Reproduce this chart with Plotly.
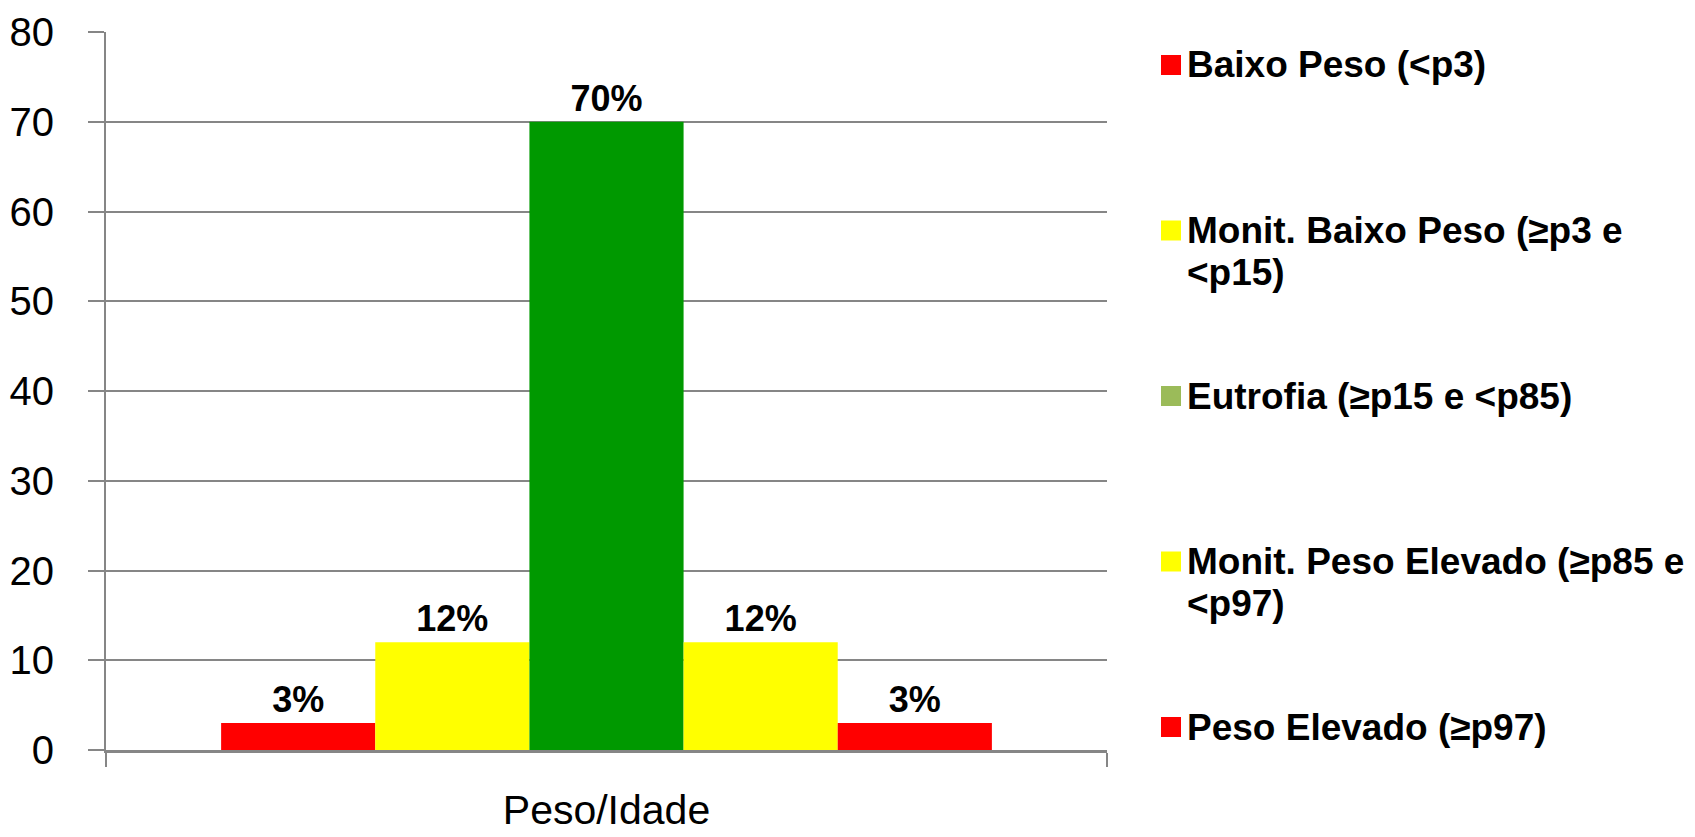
import html
import textwrap

import plotly.graph_objects as go

CATEGORY = "Peso/Idade"
SERIES_NAMES = [
    "Baixo Peso (<p3)",
    "Monit. Baixo Peso (≥p3 e <p15)",
    "Eutrofia (≥p15 e <p85)",
    "Monit. Peso Elevado (≥p85 e <p97)",
    "Peso Elevado (≥p97)",
]
SERIES_VALUES = [3, 12, 70, 12, 3]
BAR_COLORS = ["#FF0000", "#FFFF00", "#009900", "#FFFF00", "#FF0000"]
LEGEND_COLORS = ["#FF0000", "#FFFF00", "#9BBB59", "#FFFF00", "#FF0000"]
Y_TICKS = [0, 10, 20, 30, 40, 50, 60, 70, 80]

# page body has an 8px margin, so the figure is drawn 8px smaller and shifted
BODY = 8
W, H = 1695 - BODY, 837 - BODY
PLOT_L, PLOT_R, PLOT_T, PLOT_B = 106 - BODY, 1107 - BODY, 32 - BODY, 750 - BODY
GRAY = "#868686"
FONT = "Arial, Liberation Sans, sans-serif"


def px_x(x):
    # x given in screen pixels
    return (x - BODY - PLOT_L) / (PLOT_R - PLOT_L)


def px_y(y):
    return (PLOT_B - (y - BODY)) / (PLOT_B - PLOT_T)


fig = go.Figure()
for name, value, color in zip(SERIES_NAMES, SERIES_VALUES, BAR_COLORS):
    fig.add_trace(
        go.Bar(
            x=[CATEGORY],
            y=[value],
            name=name,
            marker=dict(color=color, line=dict(width=0)),
            text=[f"<b>{value}%</b>"],
            textposition="outside",
            textfont=dict(family=FONT, size=36, color="black"),
            constraintext="none",
            cliponaxis=False,
            showlegend=False,
        )
    )

# hand-made legend, evenly spaced rows like the original
shapes = []
annotations = []
row_top, row_step, line_step = 65, 165.5, 42
for i, (name, color) in enumerate(zip(SERIES_NAMES, LEGEND_COLORS)):
    cy = row_top + i * row_step
    shapes.append(
        dict(
            type="rect", xref="paper", yref="paper",
            x0=px_x(1161), x1=px_x(1181), y0=px_y(cy - 10), y1=px_y(cy + 10),
            fillcolor=color, line=dict(width=0),
        )
    )
    for j, line in enumerate(textwrap.wrap(name, 27)):
        annotations.append(
            dict(
                xref="paper", yref="paper",
                x=px_x(1185), y=px_y(cy + j * line_step),
                xanchor="left", yanchor="middle",
                text=f"<b>{html.escape(line)}</b>",
                showarrow=False,
                font=dict(family=FONT, size=37, color="black"),
            )
        )

fig.update_layout(
    width=W,
    height=H,
    autosize=False,
    margin=dict(l=PLOT_L, r=W - PLOT_R, t=PLOT_T, b=H - PLOT_B, pad=0),
    paper_bgcolor="white",
    plot_bgcolor="white",
    barmode="group",
    bargap=0.23,
    bargroupgap=0,
    shapes=shapes,
    annotations=annotations,
    font=dict(family=FONT, color="black"),
)
fig.update_yaxes(
    range=[0, 80],
    tickvals=Y_TICKS,
    automargin=False,
    showgrid=True,
    gridcolor=GRAY,
    gridwidth=2,
    zeroline=False,
    showline=True,
    linecolor=GRAY,
    linewidth=2,
    ticks="outside",
    ticklen=16,
    tickwidth=2,
    tickcolor=GRAY,
    ticklabelstandoff=26,
    tickfont=dict(family=FONT, size=40, color="black"),
)
fig.update_xaxes(
    type="category",
    automargin=False,
    showgrid=False,
    showline=True,
    linecolor=GRAY,
    linewidth=2.5,
    ticks="outside",
    tickson="boundaries",
    ticklen=14,
    tickwidth=2,
    tickcolor=GRAY,
    ticklabelstandoff=22,
    tickfont=dict(family=FONT, size=41, color="black"),
)

fig.write_html("out.html")
